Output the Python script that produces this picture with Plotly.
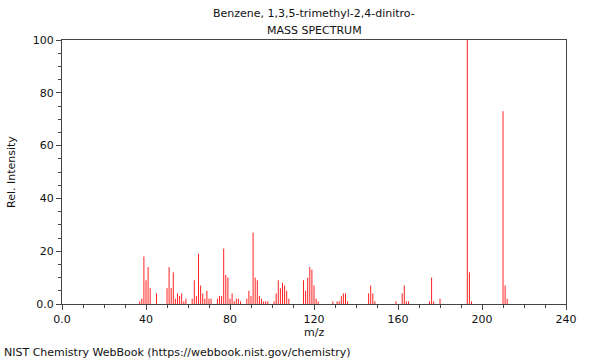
import plotly.graph_objects as go

mz = [37, 38, 39, 40, 41, 42, 45,
      50, 51, 52, 53, 54, 55, 56, 57, 58, 59,
      62, 63, 64, 65, 66, 67, 68, 69, 70, 71,
      74, 75, 76, 77, 78, 79, 80, 81, 82, 83, 84, 85,
      88, 89, 90, 91, 92, 93, 94, 95, 96, 97, 98,
      101, 102, 103, 104, 105, 106, 107, 108,
      115, 116, 117, 118, 119, 120, 121, 122,
      129, 131, 132, 133, 134, 135, 136,
      146, 147, 148, 149,
      159, 162, 163, 164, 165,
      175, 176, 177, 180,
      193, 194, 195,
      210, 211, 212]
intensity = [1, 2, 18, 9, 14, 6, 4,
             6, 14, 6, 12, 2, 4, 3, 4, 1, 2,
             2, 9, 3, 19, 7, 4, 2, 5, 2, 2,
             2, 3, 3, 21, 11, 10, 2, 4, 1, 2, 2, 1,
             2, 5, 3, 27, 10, 9, 3, 2, 1, 1, 1,
             1, 4, 9, 6, 8, 7, 5, 2,
             9, 5, 10, 14, 13, 7, 2, 1,
             1, 1, 1, 3, 4, 4, 1,
             4, 7, 4, 1,
             1, 4, 7, 1, 1,
             1, 10, 1, 2,
             100, 12, 1,
             73, 7, 2]

x_ticks = [0, 40, 80, 120, 160, 200, 240]
x_labels = ["0.0", "40", "80", "120", "160", "200", "240"]
y_ticks = [0, 20, 40, 60, 80, 100]
y_labels = ["0.0", "20", "40", "60", "80", "100"]

xs, ys = [], []
for m, v in zip(mz, intensity):
    xs += [m, m, None]
    ys += [0, v, None]

fig = go.Figure()
fig.add_trace(go.Scatter(x=xs, y=ys, mode="lines",
                         line=dict(color="#ff2020", width=1),
                         hoverinfo="skip", showlegend=False))

font = dict(family="DejaVu Sans", size=11, color="#111")
axis_common = dict(showgrid=False, zeroline=False, showline=True,
                   linecolor="#444", linewidth=1, mirror=True,
                   ticks="outside", ticklen=5, tickcolor="#444",
                   tickfont=font)
fig.update_xaxes(range=[0, 240], tickvals=x_ticks, ticktext=x_labels,
                 minor=dict(dtick=10, ticks="outside", ticklen=3, tickcolor="#444"),
                 **axis_common)
fig.update_yaxes(range=[0, 100], tickvals=y_ticks, ticktext=y_labels,
                 minor=dict(dtick=5, ticks="outside", ticklen=3, tickcolor="#444"),
                 **axis_common)

fig.update_layout(
    width=600, height=360,
    margin=dict(l=62, r=34, t=40, b=56, autoexpand=False),
    plot_bgcolor="white", paper_bgcolor="white",
    font=font,
    annotations=[
        dict(text="Benzene, 1,3,5-trimethyl-2,4-dinitro-", xref="paper", yref="paper",
             x=0.5, y=1.0, yanchor="middle", yshift=27, showarrow=False, font=font),
        dict(text="MASS SPECTRUM", xref="paper", yref="paper", x=0.5, y=1.0,
             yanchor="middle", yshift=10, showarrow=False, font=font),
        dict(text="m/z", xref="paper", yref="paper", x=0.5, y=0,
             yanchor="middle", yshift=-28, showarrow=False, font=font),
        dict(text="Rel. Intensity", xref="paper", yref="paper", x=0, y=0.5,
             xanchor="center", xshift=-51, textangle=-90, showarrow=False, font=font),
        dict(text="NIST Chemistry WebBook (https://webbook.nist.gov/chemistry)",
             xref="paper", yref="paper", x=0, xanchor="left", xshift=-60,
             y=0, yanchor="middle", yshift=-48, showarrow=False, font=font),
    ],
)

fig.write_html("out.html", config={"displayModeBar": False},
               post_script="document.body.style.margin='0';document.body.style.padding='0';")
